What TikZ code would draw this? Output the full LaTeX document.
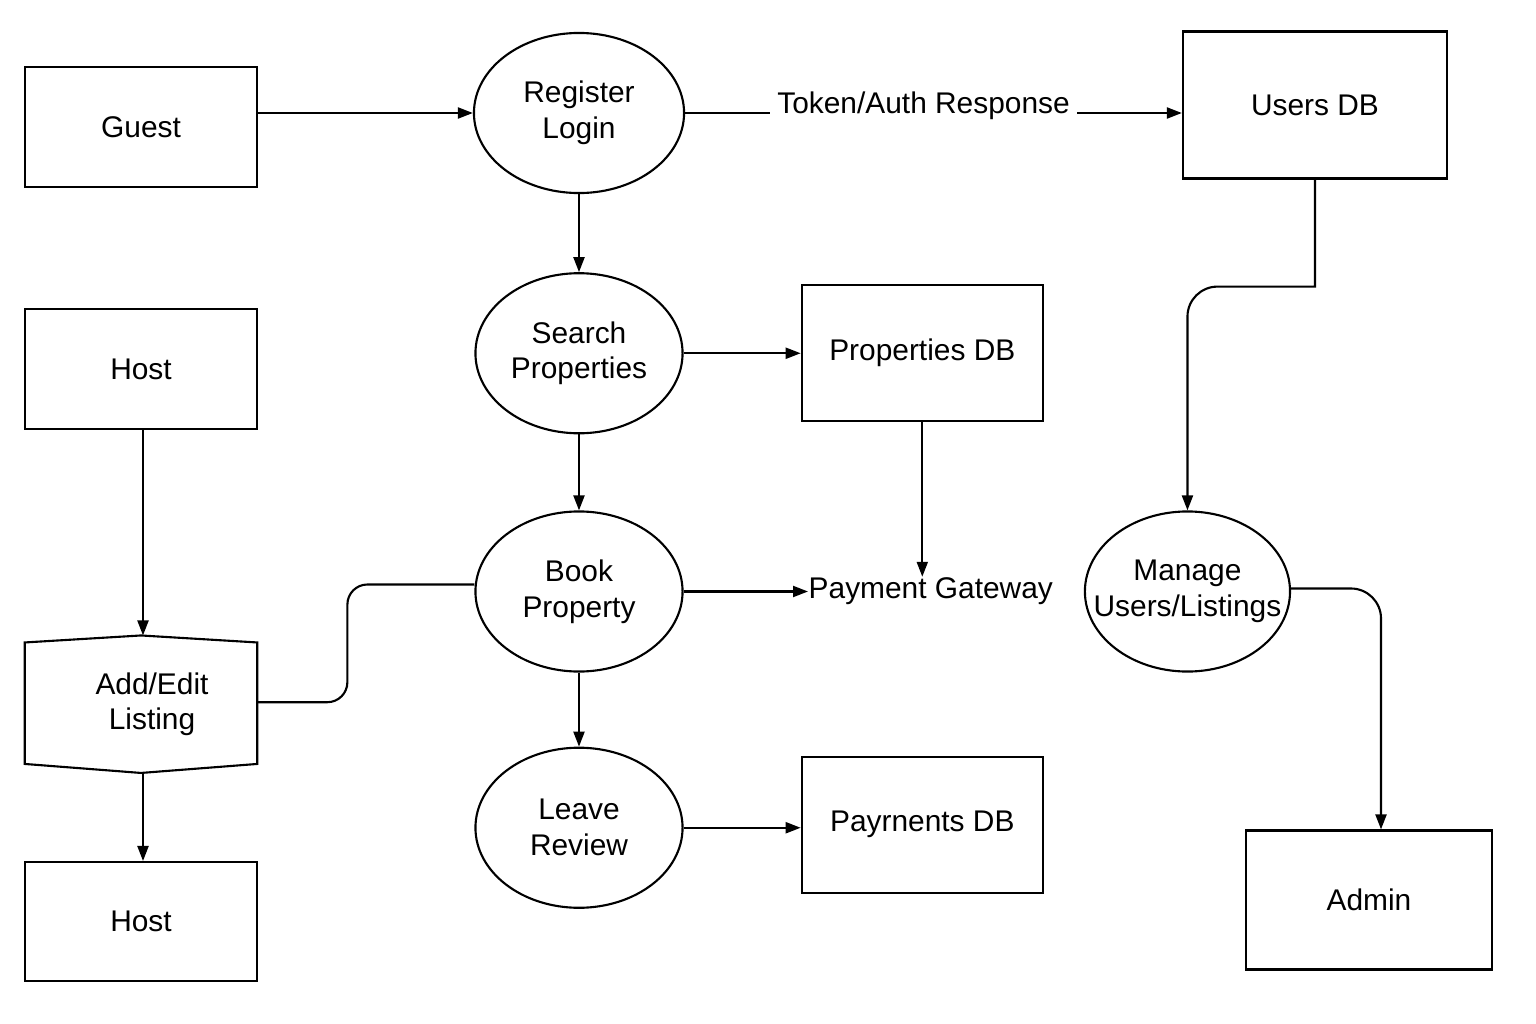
\documentclass[tikz,border=0pt]{standalone}
\usepackage{fontspec}
\setmainfont{Liberation Sans}
\usetikzlibrary{shapes.geometric, arrows.meta, positioning}

\begin{document}
\begin{tikzpicture}[
    x=0.01cm, y=-0.01cm,
    font=\fontsize{8.5}{10.2}\selectfont,
    entity/.style={rectangle, draw=black, line width=0.6pt, minimum width=2.31cm, minimum height=1.20cm, inner sep=0pt, align=center},
    store/.style={rectangle, draw=black, line width=0.6pt, minimum width=2.41cm, minimum height=1.36cm, inner sep=0pt, align=center},
    process/.style={ellipse, draw=black, line width=0.6pt, minimum width=2.07cm, minimum height=1.60cm, inner sep=0pt, align=center},
    arrow/.style={-{Triangle[length=0.15cm, width=0.11cm]}, line width=0.6pt},
    plain_line/.style={line width=0.6pt},
    flow_label/.style={fill=white, inner xsep=2pt, inner ysep=0pt, anchor=base}
]
\useasboundingbox (0,0) rectangle (1536,1024);

% External entities
\node (guest) [entity] at (141,127) {Guest};
\node (host_in) [entity, below=1.20cm of guest] {Host};
\node (addedit) [minimum width=2.31cm, minimum height=1.36cm, inner sep=0pt, align=center, below=2.05cm of host_in] {\hspace*{0.22cm}Add/Edit\\\hspace*{0.22cm}Listing};
\node (host_out) [entity, minimum height=1.19cm, below=0.88cm of addedit] {Host};
\node (users) [store, minimum width=2.64cm, minimum height=1.47cm] at (1315,105) {Users DB};
\node (admin) [store, minimum width=2.45cm, minimum height=1.39cm] at (1369,900) {Admin};

% Processes
\node (register) [process, minimum width=2.10cm] at (579,113) {Register\\Login};
\node (search) [process, below=0.78cm of register] {Search\\Properties};
\node (book) [process, below=0.76cm of search] {Book\\Property};
\node (review) [process, below=0.74cm of book] {Leave\\Review};
\node (manage) [process, minimum width=2.05cm, inner xsep=-0.25cm, right=4.00cm of book] {Manage\\Users/Listings};

% Data stores
\node (properties) [store, right=1.17cm of search] {Properties DB};
\node (payments) [store, right=1.17cm of review, yshift=0.03cm] {Payrnents DB};
\node (gateway) [inner sep=0pt, anchor=west] at (808,591) {Payment Gateway};

% Add/Edit outline
\draw [plain_line] ([yshift=-0.07cm]addedit.north west) -- (addedit.north) -- ([yshift=-0.07cm]addedit.north east)
    -- ([yshift=0.09cm]addedit.south east) -- (addedit.south) -- ([yshift=0.09cm]addedit.south west) -- cycle;

% Arrows
\draw [arrow] (guest.east |- register.west) -- (register.west);
\draw [arrow] (register.east) -- node[flow_label, pos=0.48] {Token/Auth Response} (users.west |- register.east);
\draw [arrow] (register) -- (search);
\draw [arrow] (search) -- (book);
\draw [arrow] (book) -- (review);
\draw [arrow] (search.east) -- (properties.west);
\draw [arrow] (review.east) -- (payments.west |- review.east);
\draw [arrow] (book.east) -- (book.east -| gateway.west);
\draw [arrow] (properties.south) -- (properties.south |- gateway.north);

\draw [arrow] ([xshift=0.02cm]host_in.south) -- ([xshift=0.02cm]addedit.north);
\draw [arrow] ([xshift=0.02cm]addedit.south) -- ([xshift=0.02cm]host_out.north);
\draw [plain_line, rounded corners=0.2cm] ([yshift=0.07cm]book.west) -- ++(-127,0) |- ([yshift=0.02cm]addedit.east);

\draw [arrow] (users.south) -- ++(0,107) [rounded corners=0.3cm] -| (manage.north);
\draw [arrow, rounded corners=0.3cm] ([yshift=0.03cm]manage.east) -| ([xshift=0.12cm]admin.north);

\end{tikzpicture}
\end{document}
